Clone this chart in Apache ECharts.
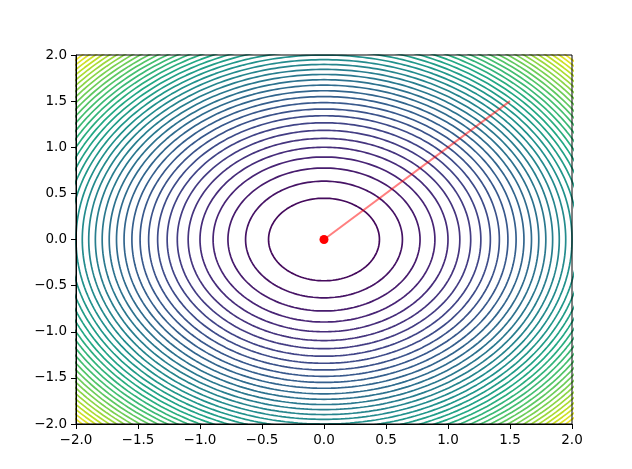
<!DOCTYPE html>
<html><head><meta charset="utf-8">
<script src="https://cdn.jsdelivr.net/npm/echarts@6/dist/echarts.min.js"></script>
<style>html,body{margin:0;padding:0;background:#fff}#c{width:632px;height:469px}</style>
</head><body><div id="c"></div>
<script>
// Contour levels of f(x, y) = x^2 + y^2 (spacing 0.2)
const contourLevels = [0.2,0.4,0.6,0.8,1.0,1.2,1.4,1.6,1.8,2.0,2.2,2.4,2.6,2.8,3.0,3.2,3.4,3.6,3.8,4.0,
  4.2,4.4,4.6,4.8,5.0,5.2,5.4,5.6,5.8,6.0,6.2,6.4,6.6,6.8,7.0,7.2,7.4,7.6,7.8];
const colorMin = 0.0;
const colorMax = 8.0;
// Descent path (red line) and final point
const pathX = [1.5, 0.0];
const pathY = [1.5, 0.0];
const endX = [0.0];
const endY = [0.0];
// Tick labels
const xTickLabels = ['\u22122.0','\u22121.5','\u22121.0','\u22120.5','0.0','0.5','1.0','1.5','2.0'];
const yTickLabels = ['\u22122.0','\u22121.5','\u22121.0','\u22120.5','0.0','0.5','1.0','1.5','2.0'];

const viridis = ['#440154','#482475','#414487','#355f8d','#2a788e','#21918c','#22a884','#44bf70','#7ad151','#bddf26','#fde725'];
function hex2rgb(h){return [parseInt(h.slice(1,3),16),parseInt(h.slice(3,5),16),parseInt(h.slice(5,7),16)];}
function cmap(t){
  t=Math.max(0,Math.min(1,t));
  const p=t*(viridis.length-1), i=Math.min(Math.floor(p),viridis.length-2), f=p-i;
  const a=hex2rgb(viridis[i]), b=hex2rgb(viridis[i+1]);
  return 'rgb('+a.map((v,k)=>Math.round(v+(b[k]-v)*f)).join(',')+')';
}
function labelFor(list,v){const i=Math.round((v+2)/0.5);return list[i]!==undefined?list[i]:'';}

const series=[];
contourLevels.forEach(L=>{
  const r=Math.sqrt(L), pts=[];
  for(let d=0; d<=360; d+=1){const a=d*Math.PI/180; pts.push([r*Math.cos(a), r*Math.sin(a)]);}
  series.push({type:'line',data:pts,showSymbol:false,symbol:'none',clip:true,silent:true,
    lineStyle:{color:cmap((L-colorMin)/(colorMax-colorMin)),width:1.7},z:2});
});
series.push({type:'line',data:pathX.map((x,i)=>[x,pathY[i]]),showSymbol:false,symbol:'none',clip:true,
  lineStyle:{color:'rgba(255,0,0,0.5)',width:2},z:3});
series.push({type:'scatter',data:endX.map((x,i)=>[x,endY[i]]),symbol:'circle',symbolSize:9,
  itemStyle:{color:'#ff0000',opacity:1},z:4});

const font={fontFamily:'DejaVu Sans',fontSize:13.5,color:'#000'};
const chart=echarts.init(document.getElementById('c'),null,{renderer:'canvas'});
chart.setOption({
  animation:false,
  backgroundColor:'#fff',
  grid:{left:76,right:60,top:55,bottom:45,show:true,borderColor:'#000',borderWidth:1,z:10},
  xAxis:[{type:'value',min:-2,max:2,interval:0.5,z:10,
    axisLine:{show:true,onZero:false,lineStyle:{color:'#000',width:1}},
    axisTick:{show:true,length:5,lineStyle:{color:'#000'}},
    splitLine:{show:false},
    axisLabel:Object.assign({margin:9,formatter:v=>labelFor(xTickLabels,v)},font)}],
  yAxis:[{type:'value',min:-2,max:2,interval:0.5,z:10,
    axisLine:{show:true,onZero:false,lineStyle:{color:'#000',width:1}},
    axisTick:{show:true,length:5,lineStyle:{color:'#000'}},
    splitLine:{show:false},
    axisLabel:Object.assign({margin:9,formatter:v=>labelFor(yTickLabels,v)},font)}],
  series:series
});
</script></body></html>
